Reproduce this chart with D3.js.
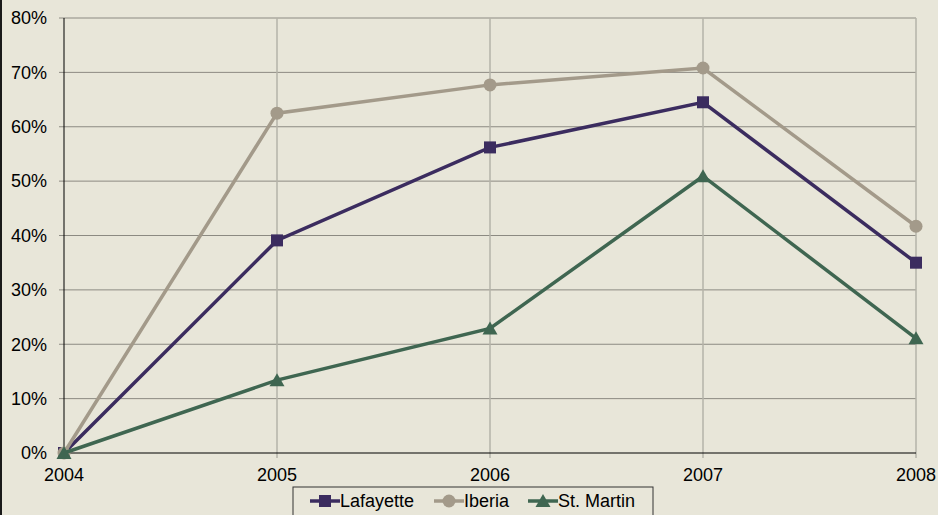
<!DOCTYPE html>
<html>
<head>
<meta charset="utf-8">
<script src="https://cdn.jsdelivr.net/npm/d3@7"></script>
<style>
  body { margin: 0; background: #e8e6d9; }
  svg { display: block; font-family: "Liberation Sans", Arial, sans-serif; }
</style>
</head>
<body>
<div id="chart"></div>
<script>
// Data
const years = [2004, 2005, 2006, 2007, 2008];
const lafayette = [0, 39.1, 56.2, 64.5, 35.0];
const iberia = [0, 62.5, 67.7, 70.8, 41.7];
const stMartin = [0, 13.4, 22.9, 50.9, 21.1];
const yTicks = [0, 10, 20, 30, 40, 50, 60, 70, 80];

const series = [
  {name: "Lafayette", values: lafayette, color: "#3b2c5f", shape: "square"},
  {name: "Iberia", values: iberia, color: "#a39a8a", shape: "circle"},
  {name: "St. Martin", values: stMartin, color: "#3f6651", shape: "triangle"}
];

const W = 938, H = 515;
const margin = {top: 18, right: 22, bottom: 62, left: 64};
const width = W - margin.left - margin.right,
      height = H - margin.top - margin.bottom;

const svg = d3.select("#chart").append("svg")
  .attr("width", W).attr("height", H);

svg.append("rect").attr("width", W).attr("height", H).attr("fill", "#e8e6d9");
// dark edge at the left
svg.append("rect").attr("x", 0).attr("y", 0).attr("width", 2).attr("height", H).attr("fill", "#1a1a1a");

const g = svg.append("g").attr("transform", `translate(${margin.left},${margin.top})`);

const x = d3.scalePoint().domain(years).range([0, width]);
const y = d3.scaleLinear().domain([0, 80]).range([height, 0]);

// horizontal gridlines
g.selectAll(".hgrid").data(yTicks.slice(1)).enter().append("line")
  .attr("x1", -5).attr("x2", width)
  .attr("y1", d => y(d)).attr("y2", d => y(d))
  .attr("stroke", "#8c8a82").attr("stroke-width", 1);

// vertical gridlines
g.selectAll(".vgrid").data(years.slice(1)).enter().append("line")
  .attr("x1", d => x(d)).attr("x2", d => x(d))
  .attr("y1", 0).attr("y2", height + 5)
  .attr("stroke", "#b5b3a8").attr("stroke-width", 1.5);

// axes lines
g.append("line").attr("x1", 0).attr("x2", 0).attr("y1", 0).attr("y2", height)
  .attr("stroke", "#000").attr("stroke-width", 1);
g.append("line").attr("x1", 0).attr("x2", width).attr("y1", height).attr("y2", height)
  .attr("stroke", "#000").attr("stroke-width", 1);

// y labels
g.selectAll(".ylab").data(yTicks).enter().append("text")
  .attr("x", -17).attr("y", d => y(d)).attr("dy", "0.35em")
  .attr("text-anchor", "end").attr("font-size", 18).attr("fill", "#000")
  .text(d => d + "%");

// x labels
g.selectAll(".xlab").data(years).enter().append("text")
  .attr("x", d => x(d)).attr("y", height + 28)
  .attr("text-anchor", "middle").attr("font-size", 18).attr("fill", "#000")
  .text(d => d);

const line = d3.line().x((d, i) => x(years[i])).y(d => y(d));

function marker(sel, shape, color) {
  if (shape === "square") {
    sel.append("rect").attr("x", -6).attr("y", -6).attr("width", 12).attr("height", 12).attr("fill", color);
  } else if (shape === "circle") {
    sel.append("circle").attr("r", 6.5).attr("fill", color);
  } else {
    sel.append("path").attr("d", "M0,-7L7.5,6L-7.5,6Z").attr("fill", color);
  }
}

series.forEach(s => {
  g.append("path").datum(s.values)
    .attr("fill", "none").attr("stroke", s.color).attr("stroke-width", 3.5)
    .attr("d", line);
  s.values.forEach((v, i) => {
    const m = g.append("g").attr("transform", `translate(${x(years[i])},${y(v)})`);
    marker(m, s.shape, s.color);
  });
});

// legend
const leg = svg.append("g").attr("transform", "translate(293,487)");
leg.append("rect").attr("x", 0).attr("y", 0).attr("width", 360).attr("height", 34)
  .attr("fill", "#e8e6d9").attr("stroke", "#333").attr("stroke-width", 1);
const legX = [17, 141, 235];
series.forEach((s, i) => {
  const it = leg.append("g").attr("transform", `translate(${legX[i]},14)`);
  it.append("line").attr("x1", 0).attr("x2", 30).attr("stroke", s.color).attr("stroke-width", 3.5);
  const m = it.append("g").attr("transform", "translate(15,0)");
  marker(m, s.shape, s.color);
  it.append("text").attr("x", 30).attr("dy", "0.35em").attr("font-size", 18).attr("fill", "#000").text(s.name);
});
</script>
</body>
</html>
